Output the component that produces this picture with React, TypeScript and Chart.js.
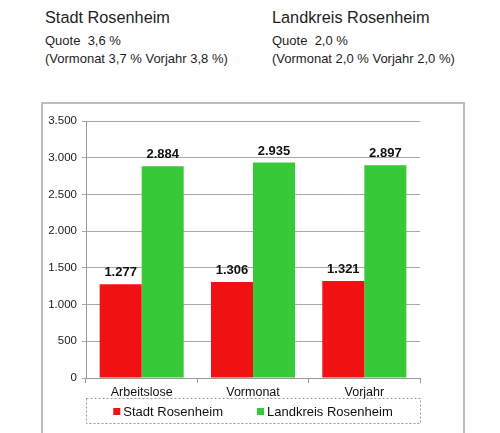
import { useEffect, useRef } from 'react'
import { Chart, BarController, BarElement, CategoryScale, LinearScale } from 'chart.js'

Chart.register(BarController, BarElement, CategoryScale, LinearScale)

const categories = ['Arbeitslose', 'Vormonat', 'Vorjahr']
const seriesLabels = ['Stadt Rosenheim', 'Landkreis Rosenheim']
const stadtValues = [1277, 1306, 1321]
const landkreisValues = [2884, 2935, 2897]
const yTicks = [0, 500, 1000, 1500, 2000, 2500, 3000, 3500]

const FONT = "'Liberation Sans', Arial, sans-serif"
const RED = '#f01212'
const GREEN = '#38c938'

// German thousands separator: 1277 -> 1.277
const fmt = (v: number) => String(v).replace(/\B(?=(\d{3})+(?!\d))/g, '.')

const valueLabels = {
  id: 'valueLabels',
  afterDatasetsDraw(chart: any) {
    const ctx = chart.ctx
    ctx.save()
    ctx.font = `bold 13px ${FONT}`
    ctx.fillStyle = '#111'
    ctx.textAlign = 'center'
    ctx.textBaseline = 'bottom'
    chart.data.datasets.forEach((ds: any, i: number) => {
      chart.getDatasetMeta(i).data.forEach((bar: any, j: number) => {
        ctx.fillText(fmt(ds.data[j]), bar.x, bar.y - 5)
      })
    })
    ctx.restore()
  },
}

// legend in a dashed box under the x axis
const boxLegend = {
  id: 'boxLegend',
  afterDraw(chart: any) {
    const { ctx, chartArea } = chart
    const top = chart.scales.x.bottom - 1
    const h = 25
    ctx.save()
    ctx.setLineDash([2, 2])
    ctx.strokeStyle = '#9a9a9a'
    ctx.lineWidth = 1
    ctx.strokeRect(chartArea.left + 0.5, top + 0.5, chartArea.right - chartArea.left, h)
    ctx.setLineDash([])
    ctx.font = `13px ${FONT}`
    const sw = 7, gap = 3, spacing = 34
    const items = chart.data.datasets.map((ds: any) => ({
      text: ds.label, color: ds.backgroundColor, w: ctx.measureText(ds.label).width,
    }))
    const total = items.reduce((s: number, it: any) => s + sw + gap + it.w, 0) + spacing * (items.length - 1)
    let x = (chartArea.left + chartArea.right) / 2 - total / 2
    const cy = top + h / 2 + 1
    ctx.textBaseline = 'middle'
    items.forEach((it: any) => {
      ctx.fillStyle = it.color
      ctx.fillRect(x, cy - 3.5, sw, sw)
      x += sw + gap
      ctx.fillStyle = '#111'
      ctx.fillText(it.text, x, cy + 0.5)
      x += it.w + spacing
    })
    ctx.restore()
  },
}

function BarChart() {
  const canvasRef = useRef<HTMLCanvasElement>(null)
  const chartRef = useRef<any>(null)

  useEffect(() => {
    if (!canvasRef.current) return
    if (chartRef.current) chartRef.current.destroy()

    chartRef.current = new Chart(canvasRef.current, {
      type: 'bar',
      data: {
        labels: categories,
        datasets: [
          { label: seriesLabels[0], data: stadtValues, backgroundColor: RED },
          { label: seriesLabels[1], data: landkreisValues, backgroundColor: GREEN },
        ],
      },
      options: {
        responsive: true,
        maintainAspectRatio: false,
        animation: false,
        datasets: { bar: { categoryPercentage: 0.755, barPercentage: 1 } },
        layout: { padding: { left: 0, right: 41, top: 17, bottom: 34 } },
        plugins: { legend: { display: false }, tooltip: { enabled: false } },
        scales: {
          x: {
            grid: { drawOnChartArea: false, drawTicks: true, tickLength: 5, color: '#999' },
            border: { color: '#999' },
            ticks: { color: '#111', padding: 2, font: { family: FONT, size: 12.5 } },
            afterFit: (s: any) => { s.height = 21 },
          },
          y: {
            min: 0,
            max: 3500,
            afterBuildTicks: (s: any) => { s.ticks = yTicks.map(v => ({ value: v })) },
            grid: { color: '#a8a8a8', tickLength: 4 },
            border: { color: '#999' },
            ticks: {
              color: '#222', padding: 5,
              font: { family: FONT, size: 11.5 },
              callback: (v: string | number) => fmt(Number(v)),
            },
            afterFit: (s: any) => { s.width = 43 },
          },
        },
      },
      plugins: [valueLabels, boxLegend],
    })

    return () => { if (chartRef.current) chartRef.current.destroy() }
  }, [])

  return <canvas ref={canvasRef} />
}

const txt = (left: number, top: number, size: number): React.CSSProperties => ({
  position: 'absolute', left, top, fontSize: size, fontFamily: FONT, color: '#1e1e1e', whiteSpace: 'nowrap',
})

export default function App() {
  return (
    <div style={{ position: 'absolute', left: 0, top: 0, width: 500, height: 433, overflow: 'hidden', background: '#fff' }}>
      <div style={txt(45, 8, 16.3)}>Stadt Rosenheim</div>
      <div style={txt(45, 33, 13)}>Quote&nbsp; 3,6 %</div>
      <div style={txt(45, 51, 13)}>(Vormonat 3,7 % Vorjahr 3,8 %)</div>
      <div style={txt(272, 8, 16.3)}>Landkreis Rosenheim</div>
      <div style={txt(272, 33, 13)}>Quote&nbsp; 2,0 %</div>
      <div style={txt(272, 51, 13)}>(Vormonat 2,0 % Vorjahr 2,0 %)</div>
      <div style={{ position: 'absolute', left: 41, top: 102, width: 420, height: 345, border: '2px solid #bcbcbc' }} />
      <div style={{ position: 'absolute', left: 43, top: 104, width: 418, height: 329 }}>
        <BarChart />
      </div>
    </div>
  )
}
